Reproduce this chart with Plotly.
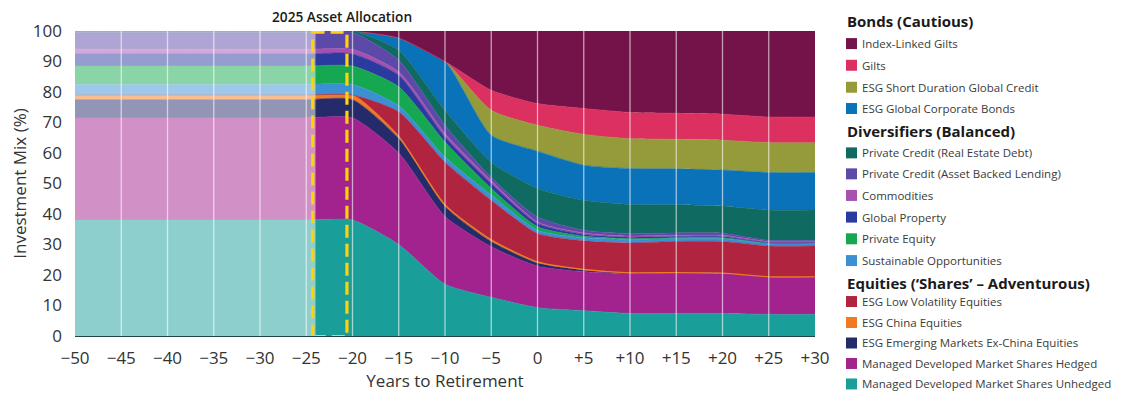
import plotly.graph_objects as go

# ---------------- data ----------------
years = [-50, -45, -40, -35, -30, -25, -20, -15, -10, -5, 0, 5, 10, 15, 20, 25, 30]
x_tick_labels = ["−50", "−45", "−40", "−35", "−30", "−25", "−20", "−15", "−10", "−5",
                 "0", "+5", "+10", "+15", "+20", "+25", "+30"]
y_ticks = [0, 10, 20, 30, 40, 50, 60, 70, 80, 90, 100]

# series, bottom of stack first (values in % of the mix)
unhedged = [38, 38, 38, 38, 38, 38, 38, 30, 17, 12.7, 9.3, 8.3, 7.4, 7.4, 7.4, 7.1, 7.1]
hedged = [33.5, 33.5, 33.5, 33.5, 33.5, 33.5, 33.5, 30, 22.2, 16.6, 13.6, 12.8, 13.1, 13.3, 13.1, 12.3, 12.3]
em_ex_china = [6, 6, 6, 6, 6, 6, 6, 4.8, 3.3, 1.7, 1.0, 0.5, 0.1, 0.1, 0.1, 0, 0]
china = [1.5, 1.5, 1.5, 1.5, 1.5, 1.5, 1.5, 0.6, 0.5, 0.5, 0.4, 0.2, 0.1, 0, 0, 0, 0]
low_vol = [0, 0, 0, 0, 0, 0, 0, 8.1, 14, 13, 9.3, 9.4, 9.8, 10.2, 10.4, 10.1, 10.1]
sustainable = [3.5, 3.5, 3.5, 3.5, 3.5, 3.5, 3.5, 2, 1.7, 1.7, 1.1, 1.0, 1.2, 1.0, 1.0, 0.9, 0.9]
private_equity = [6, 6, 6, 6, 6, 6, 6, 6.2, 4.9, 2.2, 1.1, 0.5, 0.2, 0.2, 0.2, 0.1, 0.1]
global_property = [4, 4, 4, 4, 4, 4, 4, 3.8, 1.7, 1.6, 1.1, 0.6, 0.5, 0.4, 0.4, 0.1, 0.1]
commodities = [1.5, 1.5, 1.5, 1.5, 1.5, 1.5, 1.5, 1.1, 1.1, 1.0, 0.5, 0.5, 0.4, 0.4, 0.4, 0.4, 0.4]
pc_abl = [5.5, 5.5, 5.5, 5.5, 5.5, 5.5, 5.5, 3.8, 2.7, 1.0, 1.6, 0.9, 0.8, 0.8, 0.7, 0.4, 0.4]
pc_red = [0.5, 0.5, 0.5, 0.5, 0.5, 0.5, 0.5, 3.3, 4.9, 5.0, 9.4, 9.8, 9.5, 9.2, 8.9, 9.9, 9.9]
corp_bonds = [0, 0, 0, 0, 0, 0, 0, 4, 16, 8.8, 12.2, 11.5, 11.8, 11.8, 11.8, 12.3, 12.3]
short_duration = [0, 0, 0, 0, 0, 0, 0, 0, 0, 8.2, 8.5, 10.1, 9.8, 9.7, 9.8, 9.8, 9.8]
gilts = [0, 0, 0, 0, 0, 0, 0, 0, 0, 6.6, 7.1, 8.5, 8.6, 8.5, 8.5, 8.4, 8.4]
index_linked = [0, 0, 0, 0, 0, 0, 0, 2.3, 10, 19.4, 23.8, 25.4, 26.7, 27, 27.3, 28.2, 28.2]

series_names = [
    "Managed Developed Market Shares Unhedged",
    "Managed Developed Market Shares Hedged",
    "ESG Emerging Markets Ex-China Equities",
    "ESG China Equities",
    "ESG Low Volatility Equities",
    "Sustainable Opportunities",
    "Private Equity",
    "Global Property",
    "Commodities",
    "Private Credit (Asset Backed Lending)",
    "Private Credit (Real Estate Debt)",
    "ESG Global Corporate Bonds",
    "ESG Short Duration Global Credit",
    "Gilts",
    "Index-Linked Gilts",
]
series_values = [unhedged, hedged, em_ex_china, china, low_vol, sustainable, private_equity,
                 global_property, commodities, pc_abl, pc_red, corp_bonds, short_duration,
                 gilts, index_linked]
series_colors = ["#199e9a", "#a2228e", "#252a6a", "#f07a22", "#b0243f", "#3a90d2", "#15a850",
                 "#2a3a9e", "#a651b0", "#5d4aa8", "#0f6b62", "#0a72b8", "#959a3a", "#dc3060",
                 "#741349"]

group_titles = ["Bonds (Cautious)", "Diversifiers (Balanced)", "Equities (‘Shares’ – Adventurous)"]
group_members = [
    ["Index-Linked Gilts", "Gilts", "ESG Short Duration Global Credit", "ESG Global Corporate Bonds"],
    ["Private Credit (Real Estate Debt)", "Private Credit (Asset Backed Lending)", "Commodities",
     "Global Property", "Private Equity", "Sustainable Opportunities"],
    ["ESG Low Volatility Equities", "ESG China Equities", "ESG Emerging Markets Ex-China Equities",
     "Managed Developed Market Shares Hedged", "Managed Developed Market Shares Unhedged"],
]

highlight_label = "2025 Asset Allocation"
faded_until = -24
highlight_box = (-24.3, -20.6)

# ---------------- figure ----------------
# the page body has an 8px margin, so the figure starts at page (8, 8)
OFF = 8
W, H = 1118, 384
ML, MT = 66.7, 22.7
MR = W - (815 - OFF)
MB = H - (336 - OFF)
PW, PH = W - ML - MR, H - MT - MB


def px_x(px):
    return (px - OFF - ML) / PW


def px_y(py):
    return (H - MB - (py - OFF)) / PH


fig = go.Figure()
for name, vals, col in zip(series_names, series_values, series_colors):
    lw = 1.3 if name == "ESG China Equities" else 0.6
    fig.add_trace(go.Scatter(
        x=years, y=vals, name=name, mode="lines", stackgroup="mix",
        line=dict(color=col, width=lw, shape="spline", smoothing=0.6),
        fillcolor=col, showlegend=False, hoverinfo="skip",
    ))

shapes = []
# faded (past) region
shapes.append(dict(type="rect", xref="x", yref="y", x0=years[0], x1=faded_until, y0=0, y1=100,
                   fillcolor="rgba(255,255,255,0.5)", line=dict(width=0), layer="above"))
# vertical grid lines on top of areas
for xv in years[1:-1]:
    shapes.append(dict(type="line", xref="x", yref="y", x0=xv, x1=xv, y0=0, y1=100,
                       line=dict(color="rgba(255,255,255,0.6)", width=1.3), layer="above"))
# dashed highlight box
shapes.append(dict(type="rect", xref="x", yref="y", x0=highlight_box[0], x1=highlight_box[1],
                   y0=-0.2, y1=99.6, line=dict(color="#ffd20a", width=3.2, dash="13px,6px"),
                   fillcolor="rgba(0,0,0,0)", layer="above"))

annotations = [dict(text=highlight_label, xref="x", yref="paper", x=-21.1, y=px_y(16),
                    xanchor="center", yanchor="middle", showarrow=False,
                    font=dict(family="Open Sans", size=13.7, color="#1a1a1a", weight=600))]

# custom legend
header_rows = [21, 131, 283]
item_rows = [[43.3, 65, 87, 108.3],
             [152.7, 173.7, 195.3, 217, 238.7, 260.5],
             [301.5, 322.5, 343, 363.5, 384]]
color_of = dict(zip(series_names, series_colors))
sw_x0, sw_x1, txt_x = 846, 857, 860
for title, hy, members, rows in zip(group_titles, header_rows, group_members, item_rows):
    annotations.append(dict(text=f"<b>{title}</b>", xref="paper", yref="paper",
                            x=px_x(845), y=px_y(hy), xanchor="left", yanchor="middle",
                            showarrow=False, font=dict(family="Open Sans", size=15, color="#1a1a1a")))
    for name, ry in zip(members, rows):
        shapes.append(dict(type="rect", xref="paper", yref="paper",
                           x0=px_x(sw_x0), x1=px_x(sw_x1), y0=px_y(ry + 5.5), y1=px_y(ry - 5.5),
                           fillcolor=color_of[name], line=dict(width=0)))
        annotations.append(dict(text=name, xref="paper", yref="paper",
                                x=px_x(txt_x), y=px_y(ry), xanchor="left", yanchor="middle",
                                showarrow=False, font=dict(family="Open Sans", size=11.5, color="#3a3a3a")))

fig.update_layout(
    width=W, height=H, margin=dict(l=ML, r=MR, t=MT, b=MB, autoexpand=False),
    paper_bgcolor="white", plot_bgcolor="white", showlegend=False,
    font=dict(family="Open Sans", color="#333333"),
    shapes=shapes, annotations=annotations,
    xaxis=dict(range=[years[0], years[-1]], tickmode="array", tickvals=years, ticktext=x_tick_labels,
               showgrid=False, zeroline=False, showline=True, linecolor="#234444", linewidth=1.2,
               ticks="", tickfont=dict(size=17, color="#333333"), ticklabelstandoff=6,
               title=dict(text="Years to Retirement", font=dict(size=17, color="#333333"), standoff=15)),
    yaxis=dict(range=[0, 100], tickmode="array", tickvals=y_ticks, showgrid=False, zeroline=False,
               showline=False, ticks="", tickfont=dict(size=17, color="#333333"), ticklabelstandoff=12,
               title=dict(text="Investment Mix (%)", font=dict(size=17, color="#333333"), standoff=4)),
)

fig.write_html("out.html")
